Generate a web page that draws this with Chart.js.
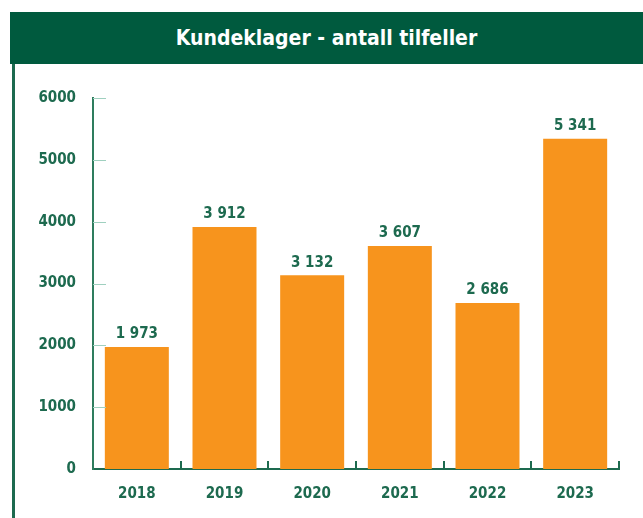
<!DOCTYPE html>
<html>
<head>
<meta charset="utf-8">
<script src="https://cdn.jsdelivr.net/npm/chart.js@4.4.0/dist/chart.umd.min.js"></script>
<style>
  html, body { margin: 0; padding: 0; background: #fff; }
  #wrap { position: relative; width: 643px; height: 518px; overflow: hidden; }
  #head {
    position: absolute; left: 10px; top: 12px; width: 633px; height: 52px;
    background: #005a3e; color: #fff; text-align: center;
    font: bold 21px "DejaVu Sans Condensed", "DejaVu Sans", sans-serif;
    font-stretch: condensed; line-height: 52px;
  }
  #side { position: absolute; left: 12px; top: 12px; width: 3px; height: 506px; background: #1d6a4f; }
  canvas { position: absolute; left: 0; top: 0; }
</style>
</head>
<body>
<div id="wrap">
  <canvas id="barChart" width="643" height="518"></canvas>
  <div id="side"></div>
  <div id="head">Kundeklager - antall tilfeller</div>
</div>
<script>
  const years = ["2018", "2019", "2020", "2021", "2022", "2023"];
  const complaints = [1973, 3912, 3132, 3607, 2686, 5341];
  const yTicks = [0, 1000, 2000, 3000, 4000, 5000, 6000];

  const green = "#1d6a4f";
  const fontFam = "'DejaVu Sans Condensed', 'DejaVu Sans', sans-serif";

  function fmt(n) {
    return String(n).replace(/\B(?=(\d{3})+(?!\d))/g, " ");
  }

  // short inward ticks on y axis, upward ticks between categories on x axis
  const axisTicks = {
    id: "axisTicks",
    afterDatasetsDraw(chart) {
      const ctx = chart.ctx;
      const y = chart.scales.y;
      const area = chart.chartArea;
      ctx.save();
      ctx.lineWidth = 1;
      ctx.strokeStyle = "#9fd0bf";
      yTicks.forEach(v => {
        if (v === 0) return;
        const py = Math.round(y.getPixelForValue(v)) + 0.5;
        ctx.beginPath();
        ctx.moveTo(area.left, py);
        ctx.lineTo(area.left + 13, py);
        ctx.stroke();
      });
      ctx.strokeStyle = green;
      ctx.lineWidth = 2;
      const step = (area.right - area.left) / years.length;
      for (let i = 1; i <= years.length; i++) {
        const px = Math.round(area.left + step * i);
        ctx.beginPath();
        ctx.moveTo(px, area.bottom);
        ctx.lineTo(px, area.bottom - 8);
        ctx.stroke();
      }
      ctx.restore();
    }
  };

  const valueLabels = {
    id: "valueLabels",
    afterDatasetsDraw(chart) {
      const ctx = chart.ctx;
      const meta = chart.getDatasetMeta(0);
      ctx.save();
      ctx.fillStyle = green;
      ctx.font = "bold 15px " + fontFam;
      ctx.textAlign = "center";
      ctx.textBaseline = "bottom";
      meta.data.forEach((bar, i) => {
        ctx.fillText(fmt(complaints[i]), bar.x, bar.y - 5);
      });
      ctx.restore();
    }
  };

  const barCtx = document.getElementById("barChart").getContext("2d");
  new Chart(barCtx, {
    type: "bar",
    data: {
      labels: years,
      datasets: [
        {
          label: "Kundeklager",
          backgroundColor: "#f7941d",
          data: complaints,
          categoryPercentage: 0.73,
          barPercentage: 1,
        },
      ],
    },
    options: {
      responsive: false,
      animation: false,
      layout: { padding: { top: 98, right: 24, left: 0, bottom: 0 } },
      plugins: { legend: { display: false }, tooltip: { enabled: false } },
      scales: {
        x: {
          grid: { display: false },
          border: { color: green, width: 2 },
          ticks: { color: green, font: { family: fontFam, size: 15, weight: "bold" }, padding: 8 },
          afterFit: s => { s.height = 49; },
        },
        y: {
          min: 0,
          max: 6000,
          afterBuildTicks: s => { s.ticks = yTicks.map(v => ({ value: v })); },
          grid: { display: false },
          border: { color: "#2e7d5e", width: 2 },
          ticks: {
            color: green,
            font: { family: fontFam, size: 15, weight: "bold" },
            padding: 9,
            callback: v => String(v),
          },
          afterFit: s => { s.width = 93; },
        },
      },
    },
    plugins: [axisTicks, valueLabels],
  });
</script>
</body>
</html>
